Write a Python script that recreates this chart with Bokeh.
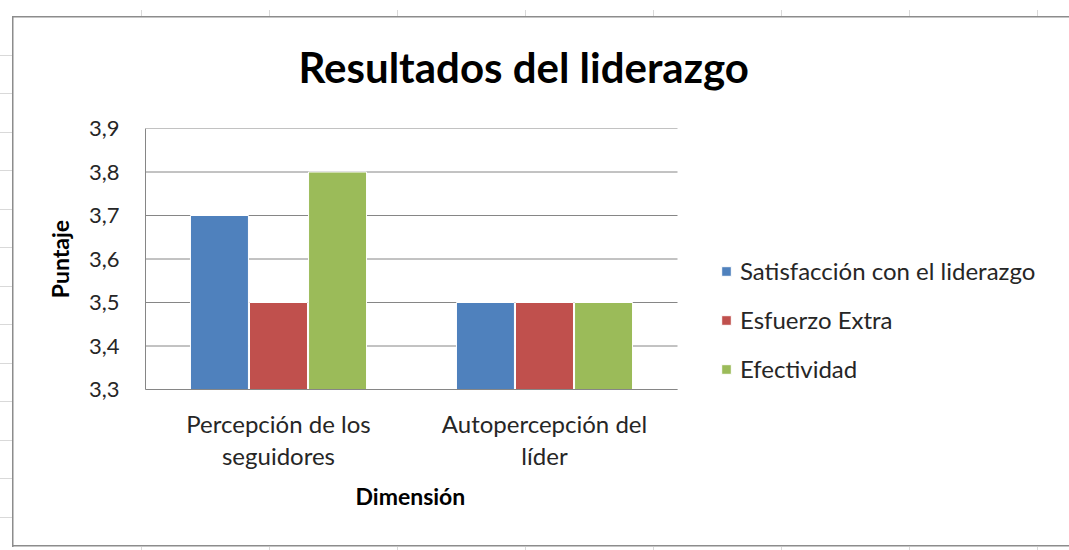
from bokeh.plotting import figure
from bokeh.models import (Range1d, Legend, LegendItem, ColumnDataSource, FixedTicker, Title,
                          LinearAxis)
from bokeh.transform import dodge
from bokeh.embed import file_html
from bokeh.resources import INLINE

categories = ["Percepción de los seguidores", "Autopercepción del líder"]
label_line1 = ["Percepción de los", "Autopercepción del"]
label_line2 = ["seguidores", "líder"]
series = ["Satisfacción con el liderazgo", "Esfuerzo Extra", "Efectividad"]
satisfaccion = [3.7, 3.5]
esfuerzo = [3.5, 3.5]
efectividad = [3.8, 3.5]
colors = ["#4F81BD", "#C0504D", "#9BBB59"]
y_ticks = [3.3, 3.4, 3.5, 3.6, 3.7, 3.8, 3.9]
y_tick_labels = ["3,3", "3,4", "3,5", "3,6", "3,7", "3,8", "3,9"]

FONT = "Lato"
TXT = "#262626"
AXC = "#868686"

n_cat = len(categories)
cat_x = [i + 0.5 for i in range(n_cat)]          # centre of each category slot
source = ColumnDataSource(dict(x=cat_x, name=categories, s1=satisfaccion, s2=esfuerzo, s3=efectividad))

# frame spans 145..1069 px; the category area occupies the first 532 px of it
FRAME_W, CAT_W = 924, 532
p = figure(
    x_range=Range1d(0, n_cat * FRAME_W / CAT_W),
    y_range=(3.3, 3.9),
    width=1069, height=550,
    output_backend="svg", toolbar_location=None,
    min_border_left=145, min_border_right=0, min_border_top=128, min_border_bottom=161,
)
p.background_fill_color = "white"
p.border_fill_color = None
p.outline_line_color = None

grid_marks = []
for x in [141, 269, 397, 525, 653, 781, 909, 1037]:
    grid_marks.append(f"linear-gradient(#d9d9d9,#d9d9d9) {x}px 10px / 1px 6px no-repeat")
    grid_marks.append(f"linear-gradient(#d9d9d9,#d9d9d9) {x}px 547px / 1px 4px no-repeat")
for y in [55, 93, 132, 170, 209, 247, 286, 324, 363, 401, 440, 478, 517]:
    grid_marks.append(f"linear-gradient(#d9d9d9,#d9d9d9) 0px {y}px / 12px 1px no-repeat")

p.styles = {
    "background": ",".join([
        "linear-gradient(#8c8c8c,#8c8c8c) 12px 16px / 1.5px 531px no-repeat",
        "linear-gradient(#8c8c8c,#8c8c8c) 12px 16px / 1100px 1.5px no-repeat",
        "linear-gradient(#8c8c8c,#8c8c8c) 12px 545px / 1100px 1.5px no-repeat",
    ] + grid_marks + ["white"])
}

title = Title(text="Resultados del liderazgo", align="left", offset=153,
              text_font=FONT, text_font_size="42px", text_font_style="bold",
              text_color="black", standoff=74)
p.add_layout(title, "above")

# horizontal gridlines limited to the category area
p.segment(x0=0, x1=n_cat, y0=y_ticks, y1=y_ticks, line_color=AXC, line_width=1)

renderers = []
offsets = [-0.222, 0.0, 0.222]
for i, key in enumerate(["s1", "s2", "s3"]):
    r = p.vbar(x=dodge("x", offsets[i]), top=key, bottom=3.3, width=0.218,
               source=source, fill_color=colors[i], line_color="white", line_width=1)
    renderers.append(r)

legend = Legend(items=[LegendItem(label=series[i], renderers=[renderers[i]]) for i in range(3)],
                location=(575, 6), orientation="vertical",
                glyph_width=12, glyph_height=12, label_height=21, spacing=20,
                padding=0, margin=0, border_line_color=None, background_fill_alpha=0,
                label_text_font=FONT, label_text_font_size="24px", label_text_color=TXT,
                label_standoff=8)
p.add_layout(legend, "center")

# y axis
p.yaxis.ticker = FixedTicker(ticks=y_ticks)
p.yaxis.major_label_overrides = {t: l for t, l in zip(y_ticks, y_tick_labels)}
p.yaxis.major_tick_line_color = None
p.yaxis.major_tick_out = 0
p.yaxis.major_tick_in = 0
p.yaxis.minor_tick_line_color = None
p.yaxis.axis_line_color = AXC
p.yaxis.major_label_text_font = FONT
p.yaxis.major_label_text_font_size = "22px"
p.yaxis.major_label_text_color = TXT
p.yaxis.major_label_standoff = 26
p.yaxis.axis_label = "Puntaje"
p.yaxis.axis_label_text_font = FONT
p.yaxis.axis_label_text_font_size = "23px"
p.yaxis.axis_label_text_font_style = "bold"
p.yaxis.axis_label_text_color = "black"
p.yaxis.axis_label_standoff = 12

p.xgrid.grid_line_color = None
p.ygrid.grid_line_color = None

# x axis: first line of category labels
xa = p.xaxis[0]
xa.ticker = FixedTicker(ticks=cat_x)
xa.major_label_overrides = {x: l for x, l in zip(cat_x, label_line1)}
xa.bounds = (0, n_cat)
xa.major_tick_line_color = None
xa.minor_tick_line_color = None
xa.major_tick_out = 0
xa.major_tick_in = 0
xa.axis_line_color = AXC
xa.major_label_text_font = FONT
xa.major_label_text_font_size = "24px"
xa.major_label_text_color = TXT
xa.major_label_standoff = 19

# second x axis: second line of category labels
x2 = LinearAxis(
    ticker=FixedTicker(ticks=cat_x),
    major_label_overrides={x: l for x, l in zip(cat_x, label_line2)},
    bounds=(0, n_cat),
    major_tick_line_color=None, minor_tick_line_color=None, major_tick_out=0, major_tick_in=0,
    axis_line_color=None,
    major_label_text_font=FONT, major_label_text_font_size="24px", major_label_text_color=TXT,
    major_label_standoff=0,
)
p.add_layout(x2, "below")

# x axis title, centred under the category area
xtitle = Title(text="Dimensión", align="left", offset=210, vertical_align="top",
               text_font=FONT, text_font_size="23px", text_font_style="bold",
               text_color="black", standoff=18)
p.add_layout(xtitle, "below")

open("out.html", "w").write(file_html(p, INLINE))
